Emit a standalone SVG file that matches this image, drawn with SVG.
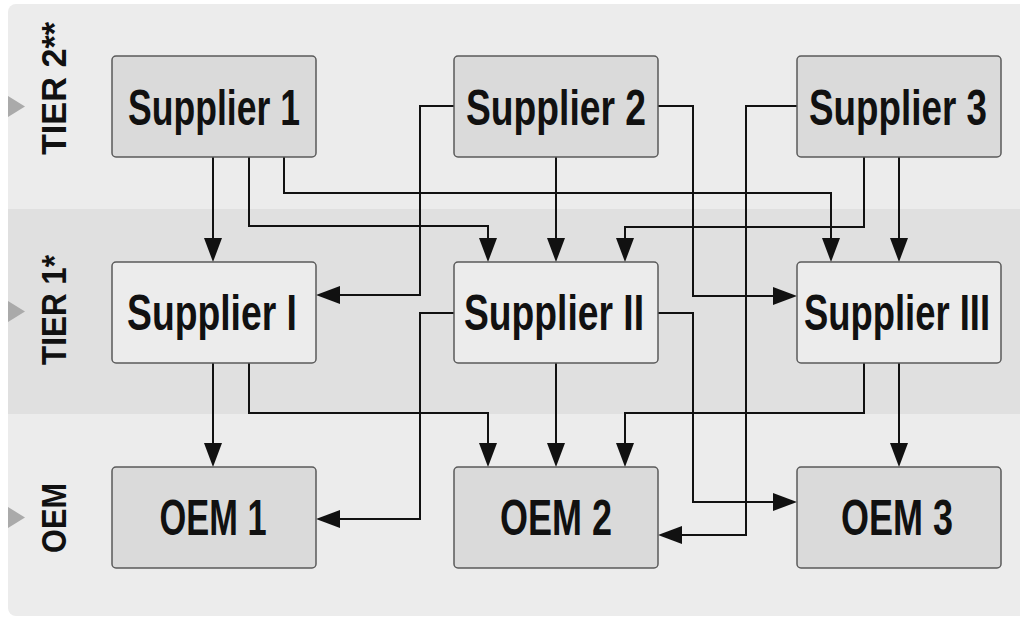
<svg xmlns="http://www.w3.org/2000/svg" width="1020" height="617" viewBox="0 0 1020 617">
  <style>
    .node rect { stroke: #5a5a5a; stroke-width: 1.5; }
    .t2 rect, .oem rect { fill: #dadada; }
    .t1 rect { fill: #ececec; }
    .lbl { font-family: "Liberation Sans", Arial, sans-serif; font-weight: bold; font-size: 50px; fill: #111; text-anchor: middle; }
    .tier { font-family: "Liberation Sans", Arial, sans-serif; font-weight: bold; font-size: 35px; fill: #111; text-anchor: middle; }
    .conn path { fill: none; stroke: #111; stroke-width: 2; }
    .conn path.a { marker-end: url(#arr); }
  </style>
  <defs>
    <marker id="arr" markerUnits="userSpaceOnUse" markerWidth="24" markerHeight="18" refX="14" refY="9" orient="auto" overflow="visible">
      <path d="M0,0 L24,9 L0,18 z" fill="#111"/>
    </marker>
  </defs>

  <g id="background">
    <rect x="8" y="4" width="1030" height="612" rx="8" fill="#ececec"/>
    <rect x="8" y="209" width="1012" height="205" fill="#e0e0e0"/>
  </g>

  <g id="tier-labels">
    <g id="tier2-label">
      <polygon points="8,96 25,106.5 8,117" fill="#aaaaaa"/>
      <text class="tier" transform="translate(66,88.5) rotate(-90) scale(0.978,1)">TIER 2**</text>
    </g>
    <g id="tier1-label">
      <polygon points="8,301 25,311.5 8,322" fill="#aaaaaa"/>
      <text class="tier" transform="translate(66,310) rotate(-90) scale(0.898,1)">TIER 1*</text>
    </g>
    <g id="oem-label">
      <polygon points="8,507 25,517.5 8,528" fill="#aaaaaa"/>
      <text class="tier" transform="translate(66,518) rotate(-90) scale(0.878,1)">OEM</text>
    </g>
  </g>

  <g id="connectors" class="conn">
    <path class="a" d="M213,157 V252"/>
    <path class="a" d="M249,157 V226 H488 V252"/>
    <path class="a" d="M284,157 V193 H831 V252"/>
    <path class="a" d="M454,106 H420 V295 H326"/>
    <path class="a" d="M556,157 V252"/>
    <path class="a" d="M658,106 H693 V296 H787"/>
    <path class="a" d="M864,157 V227 H625 V252"/>
    <path class="a" d="M899,157 V252"/>
    <path class="a" d="M797,106 H746 V535 H668"/>
    <path class="a" d="M213,363 V457"/>
    <path class="a" d="M249,363 V413 H488 V457"/>
    <path class="a" d="M454,313 H420 V519 H326"/>
    <path class="a" d="M556,363 V457"/>
    <path class="a" d="M658,313 H693 V502 H787"/>
    <path class="a" d="M864,363 V413 H625 V457"/>
    <path class="a" d="M899,363 V457"/>
  </g>

  <g id="supplier-1" class="node t2">
    <rect x="112" y="56" width="204" height="101" rx="4"/>
    <text class="lbl" transform="translate(214,125) scale(0.711,1)">Supplier 1</text>
  </g>
  <g id="supplier-2" class="node t2">
    <rect x="454" y="56" width="204" height="101" rx="4"/>
    <text class="lbl" transform="translate(556,125) scale(0.745,1)">Supplier 2</text>
  </g>
  <g id="supplier-3" class="node t2">
    <rect x="797" y="56" width="204" height="101" rx="4"/>
    <text class="lbl" transform="translate(898,125) scale(0.736,1)">Supplier 3</text>
  </g>

  <g id="supplier-I" class="node t1">
    <rect x="112" y="262" width="204" height="101" rx="4"/>
    <text class="lbl" transform="translate(212,330) scale(0.746,1)">Supplier I</text>
  </g>
  <g id="supplier-II" class="node t1">
    <rect x="454" y="262" width="204" height="101" rx="4"/>
    <text class="lbl" transform="translate(554,330) scale(0.745,1)">Supplier II</text>
  </g>
  <g id="supplier-III" class="node t1">
    <rect x="797" y="262" width="204" height="101" rx="4"/>
    <text class="lbl" transform="translate(897,330) scale(0.728,1)">Supplier III</text>
  </g>

  <g id="oem-1" class="node oem">
    <rect x="112" y="467" width="204" height="101" rx="4"/>
    <text class="lbl" transform="translate(213,535) scale(0.688,1)">OEM 1</text>
  </g>
  <g id="oem-2" class="node oem">
    <rect x="454" y="467" width="204" height="101" rx="4"/>
    <text class="lbl" transform="translate(556,535) scale(0.72,1)">OEM 2</text>
  </g>
  <g id="oem-3" class="node oem">
    <rect x="797" y="467" width="204" height="101" rx="4"/>
    <text class="lbl" transform="translate(897,535) scale(0.72,1)">OEM 3</text>
  </g>
</svg>
